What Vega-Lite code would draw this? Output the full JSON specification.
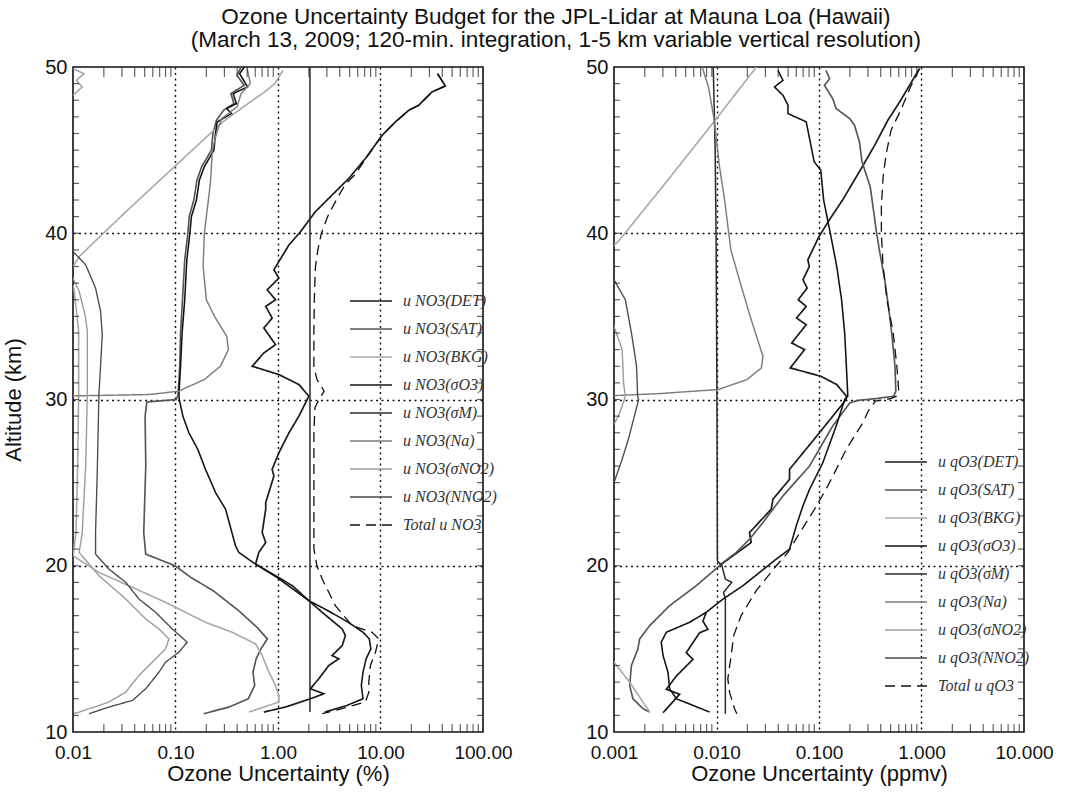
{
  "$schema": "https://vega.github.io/schema/vega-lite/v6.json",
  "background": "white",
  "padding": {"left": 1, "top": 5, "right": 10, "bottom": 4},
  "title": {
    "text": ["Ozone Uncertainty Budget for the JPL-Lidar at Mauna Loa (Hawaii)", "(March 13, 2009; 120-min. integration, 1-5 km variable vertical resolution)"],
    "font": "Liberation Sans", "fontSize": 22.5, "fontWeight": "normal", "color": "#111",
    "lineHeight": 23, "anchor": "middle", "dx": 28, "offset": 5
  },
  "datasets": {
    "lt": [{"t":0.02},{"t":0.03},{"t":0.04},{"t":0.05},{"t":0.06},{"t":0.07},{"t":0.08},{"t":0.09},{"t":0.2},{"t":0.3},{"t":0.4},{"t":0.5},{"t":0.6},{"t":0.7},{"t":0.8},{"t":0.9},{"t":2},{"t":3},{"t":4},{"t":5},{"t":6},{"t":7},{"t":8},{"t":9},{"t":20},{"t":30},{"t":40},{"t":50},{"t":60},{"t":70},{"t":80},{"t":90}],
    "rt": [{"t":0.002},{"t":0.003},{"t":0.004},{"t":0.005},{"t":0.006},{"t":0.007},{"t":0.008},{"t":0.009},{"t":0.02},{"t":0.03},{"t":0.04},{"t":0.05},{"t":0.06},{"t":0.07},{"t":0.08},{"t":0.09},{"t":0.2},{"t":0.3},{"t":0.4},{"t":0.5},{"t":0.6},{"t":0.7},{"t":0.8},{"t":0.9},{"t":2},{"t":3},{"t":4},{"t":5},{"t":6},{"t":7},{"t":8},{"t":9}],
    "km": [{"k":11},{"k":12},{"k":13},{"k":14},{"k":15},{"k":16},{"k":17},{"k":18},{"k":19},{"k":20},{"k":21},{"k":22},{"k":23},{"k":24},{"k":25},{"k":26},{"k":27},{"k":28},{"k":29},{"k":30},{"k":31},{"k":32},{"k":33},{"k":34},{"k":35},{"k":36},{"k":37},{"k":38},{"k":39},{"k":40},{"k":41},{"k":42},{"k":43},{"k":44},{"k":45},{"k":46},{"k":47},{"k":48},{"k":49}],
    "left": [
      {"s":"DET","v":36,"alt":49.6},{"s":"DET","v":42.9,"alt":48.86},{"s":"DET","v":31.8,"alt":48.5},{"s":"DET","v":23.6,"alt":47.7},{"s":"DET","v":18.9,"alt":47.4},{"s":"DET","v":14.0,"alt":46.7},{"s":"DET","v":10.4,"alt":45.9},{"s":"DET","v":7.13,"alt":44.5},{"s":"DET","v":4.91,"alt":43.3},{"s":"DET","v":3.37,"alt":42.3},{"s":"DET","v":2.32,"alt":41.3},{"s":"DET","v":1.66,"alt":40.1},{"s":"DET","v":1.28,"alt":39.3},{"s":"DET","v":1.02,"alt":38.3},{"s":"DET","v":0.912,"alt":37.8},{"s":"DET","v":1.02,"alt":37.3},{"s":"DET","v":0.785,"alt":36.6},{"s":"DET","v":0.946,"alt":36.0},{"s":"DET","v":0.759,"alt":35.6},{"s":"DET","v":0.877,"alt":34.9},{"s":"DET","v":0.728,"alt":34.3},{"s":"DET","v":0.946,"alt":33.3},{"s":"DET","v":0.728,"alt":32.8},{"s":"DET","v":0.56,"alt":32.0},{"s":"DET","v":1.02,"alt":31.5},{"s":"DET","v":1.6,"alt":30.9},{"s":"DET","v":2.0,"alt":30.2},{"s":"DET","v":1.6,"alt":29.0},{"s":"DET","v":1.28,"alt":28.0},{"s":"DET","v":1.02,"alt":26.8},{"s":"DET","v":0.877,"alt":25.8},{"s":"DET","v":0.912,"alt":25.4},{"s":"DET","v":0.759,"alt":23.8},{"s":"DET","v":0.759,"alt":23.4},{"s":"DET","v":0.701,"alt":22.0},{"s":"DET","v":0.759,"alt":21.4},{"s":"DET","v":0.65,"alt":20.8},{"s":"DET","v":0.604,"alt":20.1},{"s":"DET","v":0.946,"alt":19.4},{"s":"DET","v":1.38,"alt":18.8},{"s":"DET","v":2.0,"alt":17.9},{"s":"DET","v":2.7,"alt":17.2},{"s":"DET","v":3.37,"alt":16.7},{"s":"DET","v":4.23,"alt":16.2},{"s":"DET","v":4.55,"alt":15.8},{"s":"DET","v":4.23,"alt":15.2},{"s":"DET","v":3.37,"alt":14.6},{"s":"DET","v":3.92,"alt":14.4},{"s":"DET","v":3.13,"alt":14.0},{"s":"DET","v":2.5,"alt":13.2},{"s":"DET","v":2.07,"alt":12.6},{"s":"DET","v":2.8,"alt":12.3},{"s":"DET","v":2.07,"alt":12.0},{"s":"DET","v":1.18,"alt":11.5},{"s":"DET","v":0.728,"alt":11.2},

      {"s":"SAT","v":0.437,"alt":50.0},{"s":"SAT","v":0.398,"alt":49.5},{"s":"SAT","v":0.468,"alt":48.9},{"s":"SAT","v":0.347,"alt":48.4},{"s":"SAT","v":0.372,"alt":47.8},{"s":"SAT","v":0.295,"alt":47.4},{"s":"SAT","v":0.251,"alt":46.8},{"s":"SAT","v":0.232,"alt":46.0},{"s":"SAT","v":0.224,"alt":45.0},{"s":"SAT","v":0.18,"alt":44.0},{"s":"SAT","v":0.162,"alt":43.2},{"s":"SAT","v":0.151,"alt":42.0},{"s":"SAT","v":0.136,"alt":41.0},{"s":"SAT","v":0.132,"alt":40.0},{"s":"SAT","v":0.123,"alt":38.4},{"s":"SAT","v":0.117,"alt":36.0},{"s":"SAT","v":0.112,"alt":34.0},{"s":"SAT","v":0.11,"alt":32.0},{"s":"SAT","v":0.106,"alt":30.3},{"s":"SAT","v":0.102,"alt":30.0},{"s":"SAT","v":0.0525,"alt":29.85},{"s":"SAT","v":0.0505,"alt":29.0},{"s":"SAT","v":0.0513,"alt":26.0},{"s":"SAT","v":0.0501,"alt":24.0},{"s":"SAT","v":0.049,"alt":22.0},{"s":"SAT","v":0.0512,"alt":20.7},{"s":"SAT","v":0.0989,"alt":20.0},{"s":"SAT","v":0.141,"alt":19.3},{"s":"SAT","v":0.233,"alt":18.5},{"s":"SAT","v":0.413,"alt":17.3},{"s":"SAT","v":0.635,"alt":16.25},{"s":"SAT","v":0.787,"alt":15.6},{"s":"SAT","v":0.682,"alt":15.0},{"s":"SAT","v":0.612,"alt":14.4},{"s":"SAT","v":0.57,"alt":13.6},{"s":"SAT","v":0.592,"alt":12.8},{"s":"SAT","v":0.513,"alt":12.0},{"s":"SAT","v":0.333,"alt":11.5},{"s":"SAT","v":0.188,"alt":11.1},

      {"s":"BKG","v":1.12,"alt":49.8},{"s":"BKG","v":0.93,"alt":49.0},{"s":"BKG","v":0.74,"alt":48.5},{"s":"BKG","v":0.46,"alt":47.6},{"s":"BKG","v":0.29,"alt":46.7},{"s":"BKG","v":0.11,"alt":44.3},{"s":"BKG","v":0.0316,"alt":41.2},{"s":"BKG","v":0.0115,"alt":38.6},{"s":"BKG","v":0.0105,"alt":38.2},{"s":"BKG","v":0.0089,"alt":37.5},{"s":"BKG","v":0.0102,"alt":36.7},{"s":"BKG","v":0.01135,"alt":34.1},{"s":"BKG","v":0.01135,"alt":30.3},{"s":"BKG","v":0.0111,"alt":26.0},{"s":"BKG","v":0.0107,"alt":22.0},{"s":"BKG","v":0.01,"alt":20.6},{"s":"BKG","v":0.0179,"alt":19.6},{"s":"BKG","v":0.038,"alt":18.7},{"s":"BKG","v":0.08,"alt":17.8},{"s":"BKG","v":0.196,"alt":16.6},{"s":"BKG","v":0.357,"alt":16.0},{"s":"BKG","v":0.604,"alt":15.3},{"s":"BKG","v":0.701,"alt":14.6},{"s":"BKG","v":0.815,"alt":13.6},{"s":"BKG","v":0.946,"alt":12.8},{"s":"BKG","v":1.02,"alt":12.2},{"s":"BKG","v":1.02,"alt":11.8},{"s":"BKG","v":0.52,"alt":11.2},

      {"s":"σO3","v":0.47,"alt":50.0},{"s":"σO3","v":0.422,"alt":49.6},{"s":"σO3","v":0.505,"alt":48.8},{"s":"σO3","v":0.365,"alt":48.4},{"s":"σO3","v":0.393,"alt":47.8},{"s":"σO3","v":0.316,"alt":47.5},{"s":"σO3","v":0.352,"alt":47.2},{"s":"σO3","v":0.255,"alt":46.7},{"s":"σO3","v":0.246,"alt":46.0},{"s":"σO3","v":0.237,"alt":45.0},{"s":"σO3","v":0.191,"alt":44.0},{"s":"σO3","v":0.171,"alt":43.2},{"s":"σO3","v":0.16,"alt":42.0},{"s":"σO3","v":0.143,"alt":41.0},{"s":"σO3","v":0.138,"alt":40.0},{"s":"σO3","v":0.129,"alt":38.4},{"s":"σO3","v":0.123,"alt":36.0},{"s":"σO3","v":0.116,"alt":34.0},{"s":"σO3","v":0.112,"alt":32.0},{"s":"σO3","v":0.108,"alt":30.3},{"s":"σO3","v":0.109,"alt":30.0},{"s":"σO3","v":0.118,"alt":29.0},{"s":"σO3","v":0.135,"alt":28.0},{"s":"σO3","v":0.165,"alt":27.0},{"s":"σO3","v":0.196,"alt":25.8},{"s":"σO3","v":0.246,"alt":24.4},{"s":"σO3","v":0.308,"alt":23.4},{"s":"σO3","v":0.385,"alt":21.2},{"s":"σO3","v":0.415,"alt":20.8},{"s":"σO3","v":0.57,"alt":20.2},{"s":"σO3","v":0.975,"alt":19.3},{"s":"σO3","v":2.0,"alt":17.9},{"s":"σO3","v":2.86,"alt":17.4},{"s":"σO3","v":4.71,"alt":16.65},{"s":"σO3","v":6.75,"alt":16.0},{"s":"σO3","v":7.78,"alt":15.6},{"s":"σO3","v":8.05,"alt":15.0},{"s":"σO3","v":7.24,"alt":14.4},{"s":"σO3","v":6.75,"alt":13.6},{"s":"σO3","v":6.5,"alt":12.8},{"s":"σO3","v":6.75,"alt":12.0},{"s":"σO3","v":4.71,"alt":11.6},{"s":"σO3","v":2.86,"alt":11.2},

      {"s":"σM","v":2.05,"alt":50.0},{"s":"σM","v":2.05,"alt":11.2},

      {"s":"Na","v":0.501,"alt":49.9},{"s":"Na","v":0.537,"alt":49.0},{"s":"Na","v":0.437,"alt":48.4},{"s":"Na","v":0.398,"alt":47.6},{"s":"Na","v":0.282,"alt":46.9},{"s":"Na","v":0.251,"alt":46.0},{"s":"Na","v":0.229,"alt":45.0},{"s":"Na","v":0.219,"alt":43.0},{"s":"Na","v":0.2,"alt":41.0},{"s":"Na","v":0.191,"alt":40.0},{"s":"Na","v":0.186,"alt":38.0},{"s":"Na","v":0.2,"alt":36.0},{"s":"Na","v":0.24,"alt":35.0},{"s":"Na","v":0.316,"alt":33.8},{"s":"Na","v":0.328,"alt":33.0},{"s":"Na","v":0.295,"alt":32.4},{"s":"Na","v":0.274,"alt":32.0},{"s":"Na","v":0.191,"alt":31.2},{"s":"Na","v":0.107,"alt":30.5},{"s":"Na","v":0.0562,"alt":30.3},{"s":"Na","v":0.0107,"alt":30.22},{"s":"Na","v":0.009,"alt":30.2},

      {"s":"σNO2","v":0.01,"alt":49.9},{"s":"σNO2","v":0.0128,"alt":49.6},{"s":"σNO2","v":0.0108,"alt":49.2},{"s":"σNO2","v":0.0123,"alt":48.8},{"s":"σNO2","v":0.01,"alt":48.3},{"s":"σNO2","v":0.005,"alt":47.0},{"s":"σNO2","v":0.004,"alt":42.0},{"s":"σNO2","v":0.0063,"alt":38.0},{"s":"σNO2","v":0.01,"alt":37.3},{"s":"σNO2","v":0.0115,"alt":36.5},{"s":"σNO2","v":0.0132,"alt":35.0},{"s":"σNO2","v":0.0138,"alt":34.1},{"s":"σNO2","v":0.0138,"alt":30.3},{"s":"σNO2","v":0.0133,"alt":26.0},{"s":"σNO2","v":0.0123,"alt":22.0},{"s":"σNO2","v":0.0115,"alt":20.8},{"s":"σNO2","v":0.0179,"alt":19.4},{"s":"σNO2","v":0.0327,"alt":18.0},{"s":"σNO2","v":0.0512,"alt":16.8},{"s":"σNO2","v":0.069,"alt":16.2},{"s":"σNO2","v":0.0863,"alt":15.6},{"s":"σNO2","v":0.08,"alt":15.0},{"s":"σNO2","v":0.0594,"alt":14.2},{"s":"σNO2","v":0.044,"alt":13.4},{"s":"σNO2","v":0.0327,"alt":12.4},{"s":"σNO2","v":0.0224,"alt":11.8},{"s":"σNO2","v":0.0115,"alt":11.2},{"s":"σNO2","v":0.0102,"alt":11.1},

      {"s":"NNO2","v":0.01,"alt":38.9},{"s":"NNO2","v":0.0133,"alt":38.1},{"s":"NNO2","v":0.0166,"alt":36.7},{"s":"NNO2","v":0.0186,"alt":35.3},{"s":"NNO2","v":0.0193,"alt":33.9},{"s":"NNO2","v":0.0186,"alt":32.1},{"s":"NNO2","v":0.0179,"alt":30.3},{"s":"NNO2","v":0.0173,"alt":26.0},{"s":"NNO2","v":0.0166,"alt":22.0},{"s":"NNO2","v":0.0166,"alt":20.7},{"s":"NNO2","v":0.0224,"alt":19.8},{"s":"NNO2","v":0.0327,"alt":19.0},{"s":"NNO2","v":0.044,"alt":18.0},{"s":"NNO2","v":0.064,"alt":17.2},{"s":"NNO2","v":0.093,"alt":16.2},{"s":"NNO2","v":0.13,"alt":15.4},{"s":"NNO2","v":0.108,"alt":14.8},{"s":"NNO2","v":0.08,"alt":14.2},{"s":"NNO2","v":0.069,"alt":13.6},{"s":"NNO2","v":0.0512,"alt":12.6},{"s":"NNO2","v":0.038,"alt":11.9},{"s":"NNO2","v":0.0224,"alt":11.5},{"s":"NNO2","v":0.0143,"alt":11.1},

      {"s":"Total","v":36,"alt":49.6},{"s":"Total","v":42.9,"alt":48.86},{"s":"Total","v":31.8,"alt":48.5},{"s":"Total","v":23.6,"alt":47.7},{"s":"Total","v":18.9,"alt":47.4},{"s":"Total","v":14.0,"alt":46.7},{"s":"Total","v":10.4,"alt":45.9},{"s":"Total","v":7.2,"alt":44.5},{"s":"Total","v":5.6,"alt":43.5},{"s":"Total","v":4.6,"alt":43.0},{"s":"Total","v":3.7,"alt":42.0},{"s":"Total","v":3.05,"alt":41.0},{"s":"Total","v":2.65,"alt":40.0},{"s":"Total","v":2.45,"alt":39.0},{"s":"Total","v":2.32,"alt":38.0},{"s":"Total","v":2.26,"alt":36.0},{"s":"Total","v":2.24,"alt":34.0},{"s":"Total","v":2.24,"alt":32.0},{"s":"Total","v":2.4,"alt":31.2},{"s":"Total","v":2.82,"alt":30.5},{"s":"Total","v":2.51,"alt":30.0},{"s":"Total","v":2.29,"alt":29.5},{"s":"Total","v":2.24,"alt":28.0},{"s":"Total","v":2.24,"alt":24.0},{"s":"Total","v":2.24,"alt":21.0},{"s":"Total","v":2.4,"alt":20.0},{"s":"Total","v":2.7,"alt":19.2},{"s":"Total","v":3.63,"alt":17.6},{"s":"Total","v":5.28,"alt":16.4},{"s":"Total","v":8.28,"alt":16.0},{"s":"Total","v":9.62,"alt":15.6},{"s":"Total","v":8.93,"alt":14.8},{"s":"Total","v":7.98,"alt":14.0},{"s":"Total","v":7.69,"alt":13.0},{"s":"Total","v":7.69,"alt":12.4},{"s":"Total","v":7.13,"alt":11.8},{"s":"Total","v":3.64,"alt":11.3},{"s":"Total","v":2.7,"alt":11.1}
    ],
    "right": [
      {"s":"DET","v":0.955,"alt":49.9},{"s":"DET","v":0.627,"alt":48.0},{"s":"DET","v":0.47,"alt":46.8},{"s":"DET","v":0.35,"alt":45.3},{"s":"DET","v":0.27,"alt":44.1},{"s":"DET","v":0.17,"alt":42.0},{"s":"DET","v":0.126,"alt":40.8},{"s":"DET","v":0.1,"alt":39.8},{"s":"DET","v":0.0778,"alt":38.4},{"s":"DET","v":0.0805,"alt":38.0},{"s":"DET","v":0.0698,"alt":37.2},{"s":"DET","v":0.0766,"alt":36.7},{"s":"DET","v":0.0627,"alt":36.0},{"s":"DET","v":0.075,"alt":35.6},{"s":"DET","v":0.0604,"alt":34.9},{"s":"DET","v":0.075,"alt":34.5},{"s":"DET","v":0.0542,"alt":33.4},{"s":"DET","v":0.0723,"alt":33.0},{"s":"DET","v":0.0524,"alt":31.9},{"s":"DET","v":0.104,"alt":31.4},{"s":"DET","v":0.149,"alt":30.9},{"s":"DET","v":0.185,"alt":30.2},{"s":"DET","v":0.184,"alt":30.0},{"s":"DET","v":0.101,"alt":28.0},{"s":"DET","v":0.0516,"alt":25.8},{"s":"DET","v":0.0516,"alt":25.2},{"s":"DET","v":0.0355,"alt":24.0},{"s":"DET","v":0.0342,"alt":23.4},{"s":"DET","v":0.021,"alt":22.0},{"s":"DET","v":0.0218,"alt":21.4},{"s":"DET","v":0.0145,"alt":20.6},{"s":"DET","v":0.0107,"alt":20.0},
      {"s":"DET","seg":2,"v":0.00794,"alt":17.2},{"s":"DET","seg":2,"v":0.00738,"alt":16.67},{"s":"DET","seg":2,"v":0.00824,"alt":16.17},{"s":"DET","seg":2,"v":0.00684,"alt":15.97},{"s":"DET","seg":2,"v":0.00507,"alt":14.77},{"s":"DET","seg":2,"v":0.00589,"alt":14.37},{"s":"DET","seg":2,"v":0.00406,"alt":13.37},{"s":"DET","seg":2,"v":0.00324,"alt":12.57},{"s":"DET","seg":2,"v":0.00437,"alt":12.27},{"s":"DET","seg":2,"v":0.00301,"alt":11.16},

      {"s":"SAT","v":0.117,"alt":49.8},{"s":"SAT","v":0.127,"alt":49.3},{"s":"SAT","v":0.113,"alt":48.9},{"s":"SAT","v":0.136,"alt":48.1},{"s":"SAT","v":0.147,"alt":47.5},{"s":"SAT","v":0.199,"alt":46.9},{"s":"SAT","v":0.222,"alt":46.5},{"s":"SAT","v":0.248,"alt":45.5},{"s":"SAT","v":0.263,"alt":44.3},{"s":"SAT","v":0.316,"alt":42.8},{"s":"SAT","v":0.34,"alt":41.4},{"s":"SAT","v":0.365,"alt":40.0},{"s":"SAT","v":0.393,"alt":38.8},{"s":"SAT","v":0.438,"alt":37.2},{"s":"SAT","v":0.476,"alt":35.6},{"s":"SAT","v":0.512,"alt":34.0},{"s":"SAT","v":0.551,"alt":32.0},{"s":"SAT","v":0.562,"alt":30.5},{"s":"SAT","v":0.537,"alt":30.2},{"s":"SAT","v":0.355,"alt":30.05},{"s":"SAT","v":0.24,"alt":29.95},{"s":"SAT","v":0.2,"alt":29.8},{"s":"SAT","v":0.136,"alt":28.4},{"s":"SAT","v":0.0809,"alt":26.0},{"s":"SAT","v":0.0445,"alt":24.2},{"s":"SAT","v":0.0284,"alt":22.6},{"s":"SAT","v":0.021,"alt":21.6},{"s":"SAT","v":0.0156,"alt":20.8},{"s":"SAT","v":0.0116,"alt":20.2},{"s":"SAT","v":0.0107,"alt":20.0},{"s":"SAT","v":0.00635,"alt":18.8},{"s":"SAT","v":0.00349,"alt":17.6},{"s":"SAT","v":0.00223,"alt":16.4},{"s":"SAT","v":0.00178,"alt":15.6},{"s":"SAT","v":0.00171,"alt":15.0},{"s":"SAT","v":0.00148,"alt":14.0},{"s":"SAT","v":0.00142,"alt":12.8},{"s":"SAT","v":0.00153,"alt":12.0},{"s":"SAT","v":0.00192,"alt":11.4},{"s":"SAT","v":0.00223,"alt":11.2},

      {"s":"BKG","v":0.0245,"alt":50.0},{"s":"BKG","v":0.01,"alt":46.9},{"s":"BKG","v":0.00316,"alt":43.0},{"s":"BKG","v":0.0011,"alt":39.5},{"s":"BKG","v":0.00089,"alt":39.0},{"s":"BKG","v":0.0004,"alt":35.0},{"s":"BKG","v":0.00025,"alt":25.0},{"s":"BKG","v":0.0005,"alt":16.0},{"s":"BKG","v":0.001,"alt":14.2},{"s":"BKG","v":0.00142,"alt":13.0},{"s":"BKG","v":0.00223,"alt":11.2},

      {"s":"σO3","v":0.0397,"alt":49.8},{"s":"σO3","v":0.0445,"alt":49.2},{"s":"σO3","v":0.0368,"alt":48.8},{"s":"σO3","v":0.0445,"alt":48.3},{"s":"σO3","v":0.0498,"alt":47.7},{"s":"σO3","v":0.0498,"alt":47.2},{"s":"σO3","v":0.075,"alt":46.7},{"s":"σO3","v":0.0809,"alt":45.7},{"s":"σO3","v":0.0897,"alt":44.3},{"s":"σO3","v":0.104,"alt":43.8},{"s":"σO3","v":0.111,"alt":42.0},{"s":"σO3","v":0.129,"alt":40.0},{"s":"σO3","v":0.149,"alt":38.0},{"s":"σO3","v":0.166,"alt":36.0},{"s":"σO3","v":0.178,"alt":34.0},{"s":"σO3","v":0.185,"alt":32.0},{"s":"σO3","v":0.191,"alt":30.2},{"s":"σO3","v":0.178,"alt":30.0},{"s":"σO3","v":0.147,"alt":28.4},{"s":"σO3","v":0.109,"alt":26.2},{"s":"σO3","v":0.0809,"alt":24.6},{"s":"σO3","v":0.0697,"alt":23.6},{"s":"σO3","v":0.06,"alt":22.4},{"s":"σO3","v":0.0516,"alt":21.0},{"s":"σO3","v":0.0383,"alt":20.4},{"s":"σO3","v":0.0263,"alt":19.6},{"s":"σO3","v":0.0181,"alt":18.8},{"s":"σO3","v":0.0116,"alt":18.0},{"s":"σO3","v":0.00794,"alt":17.2},{"s":"σO3","v":0.00547,"alt":16.6},{"s":"σO3","v":0.00324,"alt":16.0},{"s":"σO3","v":0.00289,"alt":15.4},{"s":"σO3","v":0.00301,"alt":14.6},{"s":"σO3","v":0.00336,"alt":13.6},{"s":"σO3","v":0.00349,"alt":12.6},{"s":"σO3","v":0.00406,"alt":12.0},{"s":"σO3","v":0.00589,"alt":11.6},{"s":"σO3","v":0.00857,"alt":11.2},

      {"s":"σM","v":0.0093,"alt":50.0},{"s":"σM","v":0.0097,"alt":45.0},{"s":"σM","v":0.0099,"alt":40.0},{"s":"σM","v":0.0101,"alt":30.0},{"s":"σM","v":0.0102,"alt":20.3},{"s":"σM","v":0.0113,"alt":20.0},{"s":"σM","v":0.0122,"alt":19.2},{"s":"σM","v":0.0141,"alt":19.0},{"s":"σM","v":0.0117,"alt":18.4},{"s":"σM","v":0.0122,"alt":18.0},{"s":"σM","v":0.0122,"alt":11.1},

      {"s":"Na","v":0.00724,"alt":50.0},{"s":"Na","v":0.00836,"alt":48.8},{"s":"Na","v":0.0095,"alt":46.8},{"s":"Na","v":0.0107,"alt":44.0},{"s":"Na","v":0.012,"alt":42.0},{"s":"Na","v":0.0138,"alt":39.0},{"s":"Na","v":0.0171,"alt":37.0},{"s":"Na","v":0.0213,"alt":35.0},{"s":"Na","v":0.0264,"alt":33.2},{"s":"Na","v":0.0284,"alt":32.6},{"s":"Na","v":0.0274,"alt":31.9},{"s":"Na","v":0.0198,"alt":31.2},{"s":"Na","v":0.0104,"alt":30.6},{"s":"Na","v":0.00284,"alt":30.36},{"s":"Na","v":0.00105,"alt":30.24},{"s":"Na","v":0.0008,"alt":30.2},

      {"s":"σNO2","v":0.0008,"alt":35.0},{"s":"σNO2","v":0.001,"alt":34.4},{"s":"σNO2","v":0.0012,"alt":33.0},{"s":"σNO2","v":0.00124,"alt":31.0},{"s":"σNO2","v":0.00129,"alt":30.2},{"s":"σNO2","v":0.0012,"alt":29.6},{"s":"σNO2","v":0.0011,"alt":29.0},{"s":"σNO2","v":0.001,"alt":28.5},{"s":"σNO2","v":0.0008,"alt":28.0},

      {"s":"NNO2","v":0.0008,"alt":37.6},{"s":"NNO2","v":0.001,"alt":37.2},{"s":"NNO2","v":0.00129,"alt":36.0},{"s":"NNO2","v":0.00148,"alt":34.0},{"s":"NNO2","v":0.00166,"alt":32.0},{"s":"NNO2","v":0.0017,"alt":30.2},{"s":"NNO2","v":0.00174,"alt":30.0},{"s":"NNO2","v":0.00158,"alt":29.0},{"s":"NNO2","v":0.00138,"alt":27.6},{"s":"NNO2","v":0.0012,"alt":26.4},{"s":"NNO2","v":0.001,"alt":25.0},{"s":"NNO2","v":0.0008,"alt":24.0},

      {"s":"Total","v":0.955,"alt":49.9},{"s":"Total","v":0.78,"alt":48.8},{"s":"Total","v":0.627,"alt":47.4},{"s":"Total","v":0.505,"alt":46.2},{"s":"Total","v":0.453,"alt":44.8},{"s":"Total","v":0.422,"alt":43.4},{"s":"Total","v":0.406,"alt":41.6},{"s":"Total","v":0.406,"alt":40.0},{"s":"Total","v":0.422,"alt":38.0},{"s":"Total","v":0.46,"alt":36.0},{"s":"Total","v":0.53,"alt":34.0},{"s":"Total","v":0.575,"alt":32.0},{"s":"Total","v":0.6,"alt":30.5},{"s":"Total","v":0.57,"alt":30.2},{"s":"Total","v":0.501,"alt":30.05},{"s":"Total","v":0.355,"alt":29.9},{"s":"Total","v":0.302,"alt":29.3},{"s":"Total","v":0.268,"alt":28.6},{"s":"Total","v":0.184,"alt":27.0},{"s":"Total","v":0.142,"alt":25.6},{"s":"Total","v":0.117,"alt":24.6},{"s":"Total","v":0.0904,"alt":23.4},{"s":"Total","v":0.0622,"alt":21.8},{"s":"Total","v":0.0498,"alt":20.8},{"s":"Total","v":0.0383,"alt":20.0},{"s":"Total","v":0.0244,"alt":18.5},{"s":"Total","v":0.0174,"alt":17.0},{"s":"Total","v":0.0147,"alt":15.8},{"s":"Total","v":0.0139,"alt":14.6},{"s":"Total","v":0.0129,"alt":13.2},{"s":"Total","v":0.0134,"alt":12.4},{"s":"Total","v":0.015,"alt":11.4},{"s":"Total","v":0.0158,"alt":11.1}
    ]
  },
  "spacing": 131,
  "bounds": "flush",
  "resolve": {
    "scale": {"color": "independent", "strokeDash": "independent", "strokeWidth": "independent"},
    "legend": {"color": "independent", "strokeDash": "independent", "strokeWidth": "independent"}
  },
  "hconcat": [
    {
      "width": 410, "height": 665,
      "data": {"name": "left"},
      "resolve": {"axis": {"x": "independent", "y": "independent"}},
      "layer": [
        {
          "transform": [{"filter": "datum.s != 'Total'"}],
          "mark": {"type": "line", "clip": true},
          "encoding": {
            "x": {"field": "v", "type": "quantitative",
              "scale": {"type": "log", "domain": [0.01, 100], "nice": false},
              "axis": {"orient": "bottom", "ticks": false, "labelPadding": 11,
                "values": [0.01,0.1,1,10,100],
                "format": ".2f",
                "grid": true,
                "gridOpacity": {"condition": {"test": "datum.value > 0.011 && datum.value < 99", "value": 1}, "value": 0},
                "labelFontSize": 19, "title": "Ozone Uncertainty (%)", "titleFontSize": 22, "titlePadding": 1}},
            "y": {"field": "alt", "type": "quantitative",
              "scale": {"domain": [10, 50], "nice": false, "zero": false},
              "axis": {"orient": "left", "ticks": false, "labelPadding": 6,
                "values": [10,20,30,40,50],
                "grid": true,
                "gridOpacity": {"condition": {"test": "datum.value > 10 && datum.value < 50", "value": 1}, "value": 0},
                "labelFontSize": 20, "title": "Altitude (km)", "titleFontSize": 22, "titlePadding": 19}},
            "order": {"field": "alt", "sort": "descending"},
            "detail": {"field": "seg"},
            "color": {"field": "s", "type": "nominal",
              "scale": {"domain": ["DET","SAT","BKG","σO3","σM","Na","σNO2","NNO2","Total"], "range": ["#1a1a1a","#555555","#a8a8a8","#111111","#2a2a2a","#7d7d7d","#9c9c9c","#4a4a4a","#111111"]},
              "legend": {"orient": "none", "legendX": 276, "legendY": 224, "title": null, "labelExpr": "datum.label == 'Total' ? 'Total u NO3' : 'u NO3(' + datum.label + ')'"}},
            "strokeDash": {"field": "s", "type": "nominal",
              "scale": {"domain": ["DET","SAT","BKG","σO3","σM","Na","σNO2","NNO2","Total"], "range": [[1,0],[1,0],[1,0],[1,0],[1,0],[1,0],[1,0],[1,0],[10,6]]},
              "legend": {"orient": "none", "legendX": 276, "legendY": 224, "title": null, "labelExpr": "datum.label == 'Total' ? 'Total u NO3' : 'u NO3(' + datum.label + ')'"}},
            "strokeWidth": {"field": "s", "type": "nominal",
              "scale": {"domain": ["DET","SAT","BKG","σO3","σM","Na","σNO2","NNO2","Total"], "range": [1.7,1.3,1.0,2.2,1.5,1.2,1.2,1.3,1.7]},
              "legend": {"orient": "none", "legendX": 276, "legendY": 224, "title": null, "labelExpr": "datum.label == 'Total' ? 'Total u NO3' : 'u NO3(' + datum.label + ')'"}}
          }
        },
        {
          "transform": [{"filter": "datum.s == 'Total'"}],
          "mark": {"type": "line", "clip": true},
          "encoding": {
            "x": {"field": "v", "type": "quantitative", "axis": null},
            "y": {"field": "alt", "type": "quantitative", "axis": null},
            "order": {"field": "alt", "sort": "descending"},
            "color": {"field": "s", "type": "nominal"},
            "strokeDash": {"field": "s", "type": "nominal"},
            "strokeWidth": {"field": "s", "type": "nominal"}
          }
        },
        {
          "data": {"name": "lt"},
          "mark": {"type": "tick", "orient": "vertical", "size": 16, "thickness": 1.2, "color": "#222", "clip": true},
          "encoding": {
            "x": {"field": "t", "type": "quantitative", "axis": null},
            "y": {"datum": 10, "type": "quantitative", "axis": null}
          }
        },
        {
          "data": {"name": "lt"},
          "mark": {"type": "tick", "orient": "vertical", "size": 20, "thickness": 1.2, "color": "#222", "clip": true},
          "encoding": {
            "x": {"field": "t", "type": "quantitative", "axis": null},
            "y": {"datum": 50, "type": "quantitative", "axis": null}
          }
        },
        {
          "data": {"name": "km"},
          "mark": {"type": "tick", "orient": "horizontal", "size": 12, "thickness": 1.2, "color": "#222", "clip": true},
          "encoding": {
            "y": {"field": "k", "type": "quantitative", "axis": null},
            "x": {"datum": 0.01, "type": "quantitative", "axis": null}
          }
        },
        {
          "data": {"name": "km"},
          "mark": {"type": "tick", "orient": "horizontal", "size": 12, "thickness": 1.2, "color": "#222", "clip": true},
          "encoding": {
            "y": {"field": "k", "type": "quantitative", "axis": null},
            "x": {"datum": 100, "type": "quantitative", "axis": null}
          }
        }
      ]
    },
    {
      "width": 410, "height": 665,
      "data": {"name": "right"},
      "resolve": {"axis": {"x": "independent", "y": "independent"}},
      "layer": [
        {
          "transform": [{"filter": "datum.s != 'Total'"}],
          "mark": {"type": "line", "clip": true},
          "encoding": {
            "x": {"field": "v", "type": "quantitative",
              "scale": {"type": "log", "domain": [0.001, 10], "nice": false},
              "axis": {"orient": "bottom", "ticks": false, "labelPadding": 11,
                "values": [0.001,0.01,0.1,1,10],
                "format": ".3f",
                "grid": true,
                "gridOpacity": {"condition": {"test": "datum.value > 0.0011 && datum.value < 9.9", "value": 1}, "value": 0},
                "labelFontSize": 19, "title": "Ozone Uncertainty (ppmv)", "titleFontSize": 22, "titlePadding": 1}},
            "y": {"field": "alt", "type": "quantitative",
              "scale": {"domain": [10, 50], "nice": false, "zero": false},
              "axis": {"orient": "left", "ticks": false, "labelPadding": 6,
                "values": [10,20,30,40,50],
                "grid": true,
                "gridOpacity": {"condition": {"test": "datum.value > 10 && datum.value < 50", "value": 1}, "value": 0},
                "labelFontSize": 20, "title": null}},
            "order": {"field": "alt", "sort": "descending"},
            "detail": {"field": "seg"},
            "color": {"field": "s", "type": "nominal",
              "scale": {"domain": ["DET","SAT","BKG","σO3","σM","Na","σNO2","NNO2","Total"], "range": ["#1a1a1a","#555555","#a8a8a8","#111111","#2a2a2a","#7d7d7d","#9c9c9c","#4a4a4a","#111111"]},
              "legend": {"orient": "none", "legendX": 270, "legendY": 385, "title": null, "labelExpr": "datum.label == 'Total' ? 'Total u qO3' : 'u qO3(' + datum.label + ')'"}},
            "strokeDash": {"field": "s", "type": "nominal",
              "scale": {"domain": ["DET","SAT","BKG","σO3","σM","Na","σNO2","NNO2","Total"], "range": [[1,0],[1,0],[1,0],[1,0],[1,0],[1,0],[1,0],[1,0],[10,6]]},
              "legend": {"orient": "none", "legendX": 270, "legendY": 385, "title": null, "labelExpr": "datum.label == 'Total' ? 'Total u qO3' : 'u qO3(' + datum.label + ')'"}},
            "strokeWidth": {"field": "s", "type": "nominal",
              "scale": {"domain": ["DET","SAT","BKG","σO3","σM","Na","σNO2","NNO2","Total"], "range": [1.7,1.3,1.0,2.2,1.5,1.2,1.2,1.3,1.7]},
              "legend": {"orient": "none", "legendX": 270, "legendY": 385, "title": null, "labelExpr": "datum.label == 'Total' ? 'Total u qO3' : 'u qO3(' + datum.label + ')'"}}
          }
        },
        {
          "transform": [{"filter": "datum.s == 'Total'"}],
          "mark": {"type": "line", "clip": true},
          "encoding": {
            "x": {"field": "v", "type": "quantitative", "axis": null},
            "y": {"field": "alt", "type": "quantitative", "axis": null},
            "order": {"field": "alt", "sort": "descending"},
            "color": {"field": "s", "type": "nominal"},
            "strokeDash": {"field": "s", "type": "nominal"},
            "strokeWidth": {"field": "s", "type": "nominal"}
          }
        },
        {
          "data": {"name": "rt"},
          "mark": {"type": "tick", "orient": "vertical", "size": 16, "thickness": 1.2, "color": "#222", "clip": true},
          "encoding": {
            "x": {"field": "t", "type": "quantitative", "axis": null},
            "y": {"datum": 10, "type": "quantitative", "axis": null}
          }
        },
        {
          "data": {"name": "rt"},
          "mark": {"type": "tick", "orient": "vertical", "size": 20, "thickness": 1.2, "color": "#222", "clip": true},
          "encoding": {
            "x": {"field": "t", "type": "quantitative", "axis": null},
            "y": {"datum": 50, "type": "quantitative", "axis": null}
          }
        },
        {
          "data": {"name": "km"},
          "mark": {"type": "tick", "orient": "horizontal", "size": 12, "thickness": 1.2, "color": "#222", "clip": true},
          "encoding": {
            "y": {"field": "k", "type": "quantitative", "axis": null},
            "x": {"datum": 0.001, "type": "quantitative", "axis": null}
          }
        },
        {
          "data": {"name": "km"},
          "mark": {"type": "tick", "orient": "horizontal", "size": 12, "thickness": 1.2, "color": "#222", "clip": true},
          "encoding": {
            "y": {"field": "k", "type": "quantitative", "axis": null},
            "x": {"datum": 10, "type": "quantitative", "axis": null}
          }
        }
      ]
    }
  ],
  "config": {
    "font": "Liberation Sans",
    "view": {"stroke": "#111", "strokeWidth": 1.6},
    "axis": {"domain": false, "labelColor": "#111", "titleColor": "#111",
      "labelFont": "Liberation Sans", "titleFont": "Liberation Sans", "titleFontWeight": "normal",
      "gridColor": "#111", "gridDash": [2, 3.5], "gridWidth": 1.4,
      "labelFlush": false, "labelOverlap": false, "labelBound": false},
    "legend": {"symbolType": "stroke", "symbolSize": 1760, "labelFont": "Liberation Serif", "labelFontStyle": "italic",
      "labelFontSize": 16, "labelColor": "#333", "rowPadding": 8, "clipHeight": 20, "labelOffset": 10, "padding": 0,
      "symbolOpacity": 1, "labelLimit": 300}
  }
}
